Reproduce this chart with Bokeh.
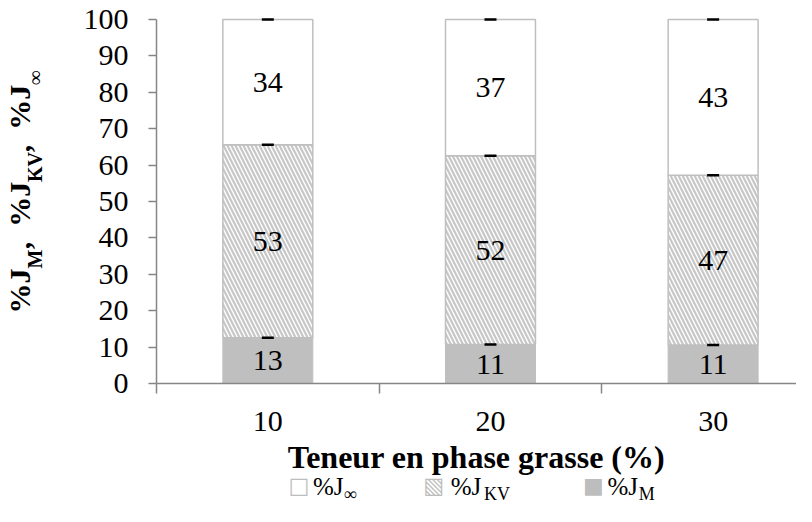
from bokeh.plotting import figure
from bokeh.models import ColumnDataSource, FixedTicker, Range1d, LinearAxis
from bokeh.core.properties import value
from bokeh.embed import file_html
from bokeh.resources import INLINE

# ---------------- data ----------------
categories = ["10", "20", "30"]
j_m = [12.6, 10.7, 10.6]      # %J_M
j_kv = [53.0, 51.9, 46.6]     # %J_KV
j_inf = [34.4, 37.4, 42.8]    # %J_inf
y_ticks = list(range(0, 101, 10))
legend_marks = ["\u25a1", "\u25a7", "\u25a0"]      # empty, hatched, filled
legend_main = ["%J", "%J", "%J"]
legend_subs = ["\u221e", "KV", "M"]

# ---------------- layout constants (canvas px) ----------------
FONT = "Liberation Serif"
W, H = 796, 506
FRAME_L, FRAME_T, FRAME_B = 155, 15, 383
PX_PER_CAT = 223.0
Y_PX = 3.64
x_end = (W - FRAME_L) / PX_PER_CAT
y_end = (FRAME_B - FRAME_T) / Y_PX
AX = "#868686"
GREY = "#BFBFBF"
HATCH = dict(hatch_pattern="\\", hatch_color="#C6C6C6", hatch_scale=8, hatch_weight=2.2)

p = figure(width=W, height=H, output_backend="svg", toolbar_location=None,
           x_range=Range1d(0, x_end), y_range=Range1d(0, y_end),
           min_border_left=FRAME_L, min_border_right=0,
           min_border_top=FRAME_T, min_border_bottom=H - FRAME_B)
p.outline_line_color = None
p.xgrid.visible = False
p.ygrid.visible = False

xs = [i + 0.5 for i in range(len(categories))]
kv_top = [a + b for a, b in zip(j_m, j_kv)]
inf_top = [a + b for a, b in zip(kv_top, j_inf)]
src = ColumnDataSource(dict(
    x=xs, m_top=j_m, kv_top=kv_top, inf_top=inf_top,
    m_mid=[v / 2 for v in j_m],
    kv_mid=[(a + b) / 2 for a, b in zip(j_m, kv_top)],
    inf_mid=[(a + b) / 2 for a, b in zip(kv_top, inf_top)],
    m_lab=[str(round(v)) for v in j_m],
    kv_lab=[str(round(v)) for v in j_kv],
    inf_lab=[str(round(v)) for v in j_inf],
))
BW = 0.404
p.vbar(x="x", bottom=0, top="m_top", width=BW, source=src,
       fill_color=GREY, line_color=GREY, line_width=1)
p.vbar(x="x", bottom="m_top", top="kv_top", width=BW, source=src,
       fill_color="white", line_color=GREY, line_width=1.5, **HATCH)
p.vbar(x="x", bottom="kv_top", top="inf_top", width=BW, source=src,
       fill_color="white", line_color=GREY, line_width=1.5)

for mid, lab in (("m_mid", "m_lab"), ("kv_mid", "kv_lab"), ("inf_mid", "inf_lab")):
    p.text(x="x", y=mid, text=lab, source=src, text_align="center", text_baseline="middle",
           text_font=value(FONT), text_font_size="30px", text_color="black")

cap_x = xs * 3
cap_y = j_m + kv_top + inf_top
p.scatter(x=cap_x, y=cap_y, marker="dash", size=12, line_width=2.5, line_color="black")

for ax in (p.xaxis[0], p.yaxis[0]):
    ax.axis_line_color = AX
    ax.axis_line_width = 1.5
    ax.major_tick_line_color = AX
    ax.major_tick_line_width = 1.5
    ax.minor_tick_line_color = AX
    ax.minor_tick_line_width = 1.5
    ax.major_label_text_font = FONT
    ax.major_label_text_font_size = "30px"
    ax.major_label_text_color = "black"

p.yaxis.ticker = FixedTicker(ticks=y_ticks)
p.yaxis.bounds = (0, 100)
p.yaxis.major_tick_out = 8
p.yaxis.major_tick_in = 0
p.yaxis.minor_tick_out = 0
p.yaxis.minor_tick_in = 0
p.yaxis.major_label_standoff = 20

p.xaxis.ticker = FixedTicker(ticks=xs, minor_ticks=list(range(len(categories) + 1)))
p.xaxis.major_label_overrides = {x: c for x, c in zip(xs, categories)}
p.xaxis.major_tick_out = 0
p.xaxis.major_tick_in = 0
p.xaxis.minor_tick_out = 10
p.xaxis.minor_tick_in = 0
p.xaxis.major_label_standoff = 18
p.xaxis.axis_label = "Teneur en phase grasse (%)"
p.xaxis.axis_label_text_font = FONT
p.xaxis.axis_label_text_font_size = "32px"
p.xaxis.axis_label_text_font_style = "bold"
p.xaxis.axis_label_text_color = "black"
p.xaxis.axis_label_standoff = 5

# ---------------- helpers: canvas px -> data ----------------
def dx(px):
    return round((px - FRAME_L) / PX_PER_CAT, 4)

def dy(py):
    return round((FRAME_B - py) / Y_PX, 3)

def label_axis(ticks, texts, size, standoff, font=FONT, style="normal", color="black",
               orientation="horizontal"):
    return LinearAxis(ticker=FixedTicker(ticks=ticks),
                      major_label_overrides={t: s for t, s in zip(ticks, texts)},
                      major_label_orientation=orientation,
                      major_label_standoff=standoff,
                      major_label_text_font=font, major_label_text_font_size=size,
                      major_label_text_font_style=style, major_label_text_color=color,
                      axis_line_color=None, major_tick_line_color=None,
                      minor_tick_line_color=None,
                      major_tick_out=0, major_tick_in=0, minor_tick_out=0, minor_tick_in=0)

# ---------------- rotated y title with subscripts ----------------
NB = "\u00a0"
y_title_main = ["%J", "," + NB + NB + "%J", "," + NB + NB + "%J"]
y_title_main_c = [290.5, 215, 118]
y_title_subs = ["M", "KV", "\u221e"]
y_title_subs_c = [258.5, 166.5, 77]
p.add_layout(label_axis([dy(c) for c in y_title_subs_c], y_title_subs, "20px", 34,
                        style="bold", orientation="parallel"), "left")
p.add_layout(label_axis([dy(c) for c in y_title_main_c], y_title_main, "30px", -15,
                        style="bold", orientation="parallel"), "left")

# ---------------- legend (markers, names, subscripts) below the axis title ----------------
mark_c = [297.5, 432.5, 592.5]
main_c = [327, 465, 622]
sub_c = [349, 496, 646]
p.add_layout(label_axis([dx(c) for c in mark_c], legend_marks, "22px", -5,
                        font="DejaVu Sans", color="#BDBDBD"), "below")
p.add_layout(label_axis([dx(c) for c in main_c], legend_main, "25px", -28), "below")
p.add_layout(label_axis([dx(c) for c in sub_c], legend_subs, "18px", -19), "below")

open("out.html", "w").write(file_html(p, INLINE))
